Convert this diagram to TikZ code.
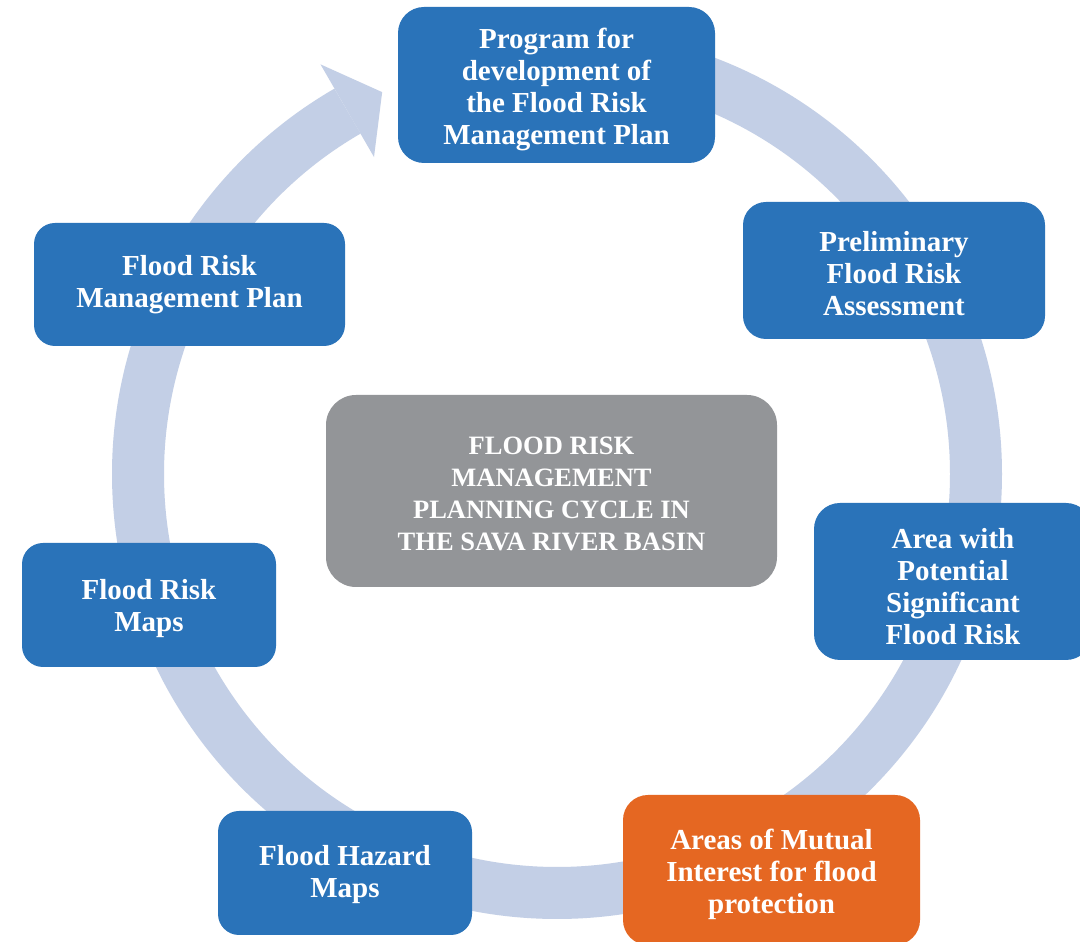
\documentclass[tikz,border=0pt]{standalone}
\usepackage{fontspec}
\setmainfont{Liberation Serif}
\definecolor{boxblue}{HTML}{2A73B9}
\definecolor{boxorange}{HTML}{E56722}
\definecolor{boxgray}{HTML}{939598}
\definecolor{ringblue}{HTML}{C3CFE6}
\tikzset{
  stagebox/.style={rectangle, fill=boxblue, inner sep=0pt},
  stagetext/.style={text=white, align=center, inner sep=0pt,
    font=\bfseries\fontsize{29}{32}\selectfont},
  centertext/.style={text=white, align=center, inner sep=0pt,
    font=\bfseries\fontsize{26.5}{32}\selectfont},
  ringline/.style={draw=ringblue, line width=52pt},
}
\begin{document}
\begin{tikzpicture}[x=1pt,y=1pt]
\useasboundingbox (0,0) rectangle (1080,942);
\fill[white] (0,0) rectangle (1080,942);
\clip (0,0) rectangle (1080,942);
\coordinate (c) at (557,468);
% cycle ring with arrow
\draw[ringline] ([shift={(90:419)}]c) arc[start angle=90, end angle=-240, radius=419];
\fill[ringblue] ([shift={(120:366)}]c) -- ([shift={(114.6:420)}]c) -- ([shift={(120:473)}]c) -- cycle;
% boxes
\node[stagebox, rounded corners=26pt, minimum width=317pt, minimum height=156pt] (prog) at (556.5,857) {};
\node[stagebox, rounded corners=23pt, minimum width=302pt, minimum height=137pt] (pfra) at (894,671.5) {};
\node[stagebox, rounded corners=26pt, minimum width=278pt, minimum height=157pt] (apsfr) at (953,360.5) {};
\node[stagebox, fill=boxorange, rounded corners=25pt, minimum width=297pt, minimum height=150pt] (ami) at (771.5,72) {};
\node[stagebox, rounded corners=21pt, minimum width=254pt, minimum height=124pt] (fhm) at (345,69) {};
\node[stagebox, rounded corners=21pt, minimum width=254pt, minimum height=124pt] (frm) at (149,337) {};
\node[stagebox, rounded corners=21pt, minimum width=311pt, minimum height=123pt] (frmp) at (189.5,657.5) {};
\node[stagebox, fill=boxgray, rounded corners=30pt, minimum width=451pt, minimum height=192pt] (title) at (551.5,451) {};
% texts
\node[stagetext] (prog-t) at ([yshift=-5pt]prog.center)
  {Program for\\development of\\the Flood Risk\\Management Plan};
\node[stagetext] (pfra-t) at ([yshift=-3pt]pfra.center)
  {Preliminary\\Flood Risk\\Assessment};
\node[stagetext] (apsfr-t) at ([yshift=-5pt]apsfr.center)
  {Area with\\Potential\\Significant\\Flood Risk};
\node[stagetext] (ami-t) at ([yshift=-4pt]ami.center)
  {Areas of Mutual\\Interest for flood\\protection};
\node[stagetext] (fhm-t) at ([yshift=-2pt]fhm.center)
  {Flood Hazard\\Maps};
\node[stagetext] (frm-t) at ([yshift=-4pt]frm.center)
  {Flood Risk\\Maps};
\node[stagetext] (frmp-t) at (frmp.center)
  {Flood Risk\\Management Plan};
\node[centertext] (title-t) at ([yshift=-3pt]title.center)
  {FLOOD RISK\\MANAGEMENT\\PLANNING CYCLE IN\\THE SAVA RIVER BASIN};
\end{tikzpicture}
\end{document}
